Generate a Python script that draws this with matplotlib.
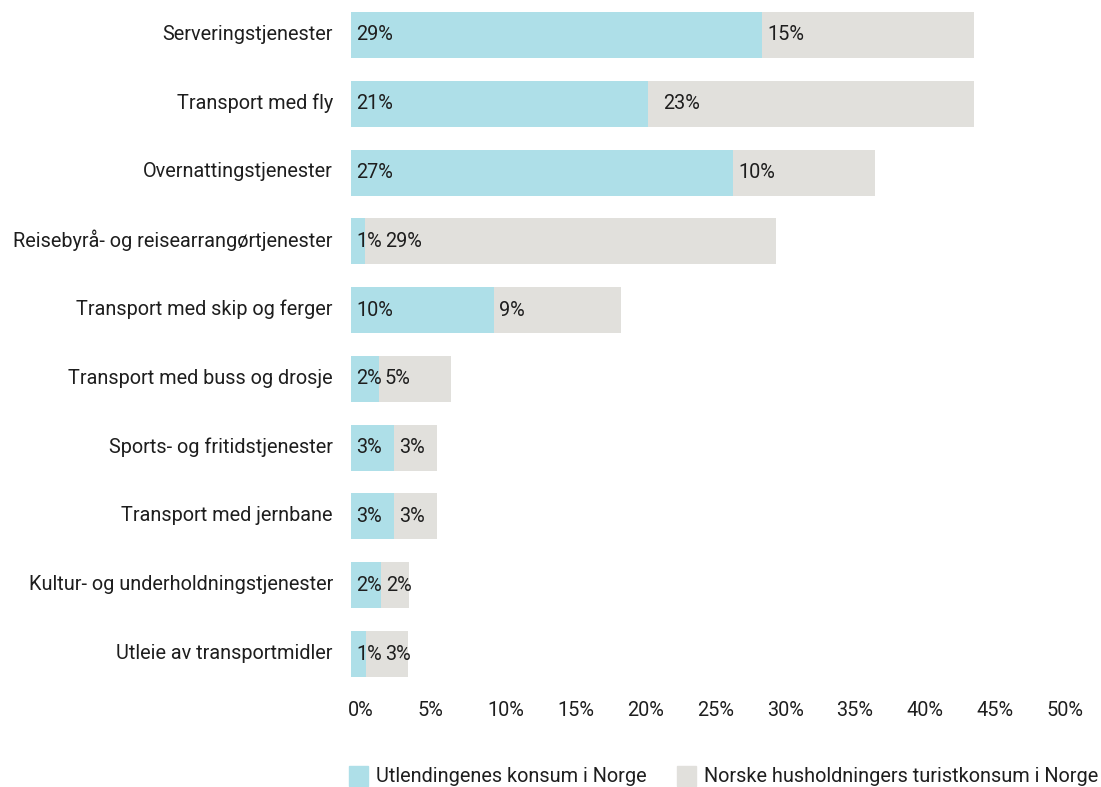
import matplotlib.pyplot as plt
from matplotlib.patches import Rectangle
from matplotlib.transforms import offset_copy, ScaledTranslation

categories = [
    "Serveringstjenester",
    "Transport med fly",
    "Overnattingstjenester",
    "Reisebyrå- og reisearrangørtjenester",
    "Transport med skip og ferger",
    "Transport med buss og drosje",
    "Sports- og fritidstjenester",
    "Transport med jernbane",
    "Kultur- og underholdningstjenester",
    "Utleie av transportmidler",
]
utlendinger = [29.44, 21.28, 27.36, 1.0, 10.24, 2.0, 3.08, 3.08, 2.15, 1.07]
nordmenn = [15.19, 23.35, 10.17, 29.44, 9.1, 5.16, 3.08, 3.08, 2.0, 3.0]
ticks = list(range(0, 51, 5))
series_names = ["Utlendingenes konsum i Norge",
                "Norske husholdningers turistkonsum i Norge"]

blue = "#aedfe8"
grey = "#e1e0dc"
txt = "#1e1e1e"
W, H = 1101, 787
fs = 14.3

plt.rcParams['font.family'] = ['Roboto', 'DejaVu Sans']

fig = plt.figure(figsize=(W / 100, H / 100), dpi=100)
ax = fig.add_axes([351 / W, 1 - 688.4 / H, 698 / W, 687.8 / H])

y = list(range(len(categories)))
ax.barh(y, utlendinger, height=0.67, color=blue)
ax.barh(y, nordmenn, left=utlendinger, height=0.67, color=grey)
ax.set_xlim(0, 50)
ax.set_ylim(len(categories) - 0.5, -0.5)
ax.set_yticks(y, categories, fontsize=fs, color=txt)
ax.set_xticks(ticks, [f"{t}%" for t in ticks], fontsize=fs, color=txt, ha='left')
ax.tick_params(length=0)
ax.tick_params(axis='y', pad=13)
ax.tick_params(axis='x', pad=9)
for s in ax.spines.values():
    s.set_visible(False)
for lbl in ax.get_yticklabels():
    lbl.set_transform(lbl.get_transform() + ScaledTranslation(0, 2 / 72, fig.dpi_scale_trans))
for lbl in ax.get_xticklabels():
    lbl.set_transform(lbl.get_transform() + ScaledTranslation(-3 / 100, 0, fig.dpi_scale_trans))

# value labels, grey label pushed right if the blue label runs over
fig.canvas.draw()
r = fig.canvas.get_renderer()
extra_gap = {1: 10}
for i, (a, b) in enumerate(zip(utlendinger, nordmenn)):
    t1 = ax.text(0, i, f"{a:.0f}%", va='center', ha='left', fontsize=fs, color=txt,
                 transform=offset_copy(ax.transData, fig, x=5, units='dots'))
    bb = t1.get_window_extent(r)
    end_blue = ax.transData.transform((a, i))[0]
    x2 = max(end_blue + 5, bb.x1 + 3) + extra_gap.get(i, 0)
    xd = ax.transData.inverted().transform((x2, 0))[0]
    ax.text(xd, i, f"{b:.0f}%", va='center', ha='left', fontsize=fs, color=txt)

# legend
for (x0, xt), name, c in zip([(349, 376), (677, 704)], series_names, [blue, grey]):
    fig.patches.append(Rectangle((x0 / W, 1 - 786 / H), 19 / W, 20 / H,
                                 transform=fig.transFigure, color=c))
    fig.text(xt / W, 1 - 776 / H, name, va='center', ha='left', fontsize=fs, color=txt)

fig.savefig("out.png", dpi=100)
